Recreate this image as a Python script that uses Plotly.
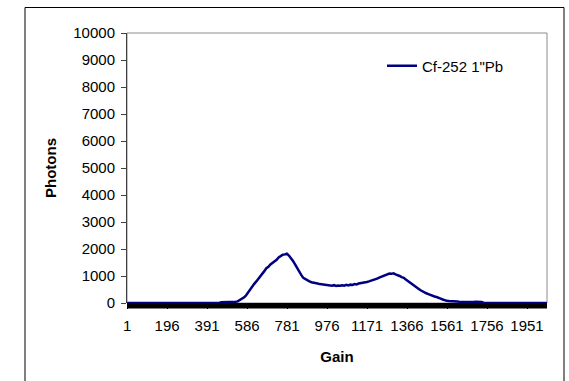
import plotly.graph_objects as go

# Pulse-height spectrum, Cf-252 source behind 1" of lead
gain = [1, 450, 460, 470, 480, 490, 500, 510, 520, 530, 540, 550, 560, 570, 580, 590,
        600, 610, 620, 630, 640, 650, 660, 670, 680, 690, 700, 710, 720, 730, 740,
        750, 760, 770, 780, 790, 800, 810, 820, 830, 840, 850, 860, 870, 880, 890,
        900, 910, 920, 930, 940, 950, 960, 970, 980, 990, 1000, 1010, 1020, 1030,
        1040, 1050, 1060, 1070, 1080, 1090, 1100, 1110, 1120, 1130, 1140, 1150,
        1160, 1170, 1180, 1190, 1200, 1210, 1220, 1230, 1240, 1250, 1260, 1270,
        1280, 1290, 1300, 1310, 1320, 1330, 1340, 1350, 1360, 1370, 1380, 1390,
        1400, 1410, 1420, 1430, 1440, 1450, 1460, 1470, 1480, 1490, 1500, 1510,
        1520, 1530, 1540, 1550, 1560, 1570, 1580, 1590, 1600, 1610, 1620, 1630,
        1640, 1650, 1660, 1670, 1680, 1690, 1700, 1710, 1720, 1730, 1740, 2048]
photons = [0, 0, 30, 30, 35, 30, 35, 30, 40, 45, 60, 100, 140, 200, 270, 390,
           500, 620, 700, 790, 880, 990, 1100, 1180, 1290, 1340, 1430, 1480, 1560, 1600, 1690,
           1740, 1790, 1800, 1830, 1760, 1680, 1560, 1430, 1290, 1150, 1040, 930, 880, 830, 800,
           770, 760, 730, 720, 700, 690, 680, 660, 670, 650, 640, 660, 630, 650,
           640, 660, 640, 670, 650, 680, 670, 700, 690, 720, 730, 740,
           770, 780, 800, 820, 840, 870, 900, 940, 970, 990, 1030, 1050,
           1090, 1080, 1100, 1060, 1040, 1000, 960, 930, 870, 820, 760, 710,
           660, 600, 540, 480, 430, 390, 360, 330, 290, 260, 240, 220,
           200, 160, 130, 100, 80, 70, 60, 60, 50, 55, 50, 45,
           50, 45, 40, 45, 40, 40, 45, 40, 40, 35, 0, 0]

x_ticks = [1, 196, 391, 586, 781, 976, 1171, 1366, 1561, 1756, 1951]
y_ticks = [0, 1000, 2000, 3000, 4000, 5000, 6000, 7000, 8000, 9000, 10000]
n_channels = 2048

W, H = 569, 381
L, R, T, B = 127, 22, 33, 78
pw, ph = W - L - R, H - T - B

font = "Liberation Sans, Arial, sans-serif"

fig = go.Figure()
fig.add_trace(go.Scatter(
    x=gain, y=photons, mode="lines", name='Cf-252 1"Pb',
    line=dict(color="#000080", width=2.5), hoverinfo="skip",
))

# chart-area frame: left, top and right edges (bottom lies below the page)
fx0, fx1 = (25 - L) / pw, (564 - L) / pw
fy_top, fy_bot = (H - B - 7.5) / ph, (H - B - H - 5) / ph
frame = [
    dict(type="line", xref="paper", yref="paper", x0=fx0, x1=fx0, y0=fy_bot, y1=fy_top,
         line=dict(color="black", width=1)),
    dict(type="line", xref="paper", yref="paper", x0=fx0, x1=fx1, y0=fy_top, y1=fy_top,
         line=dict(color="black", width=1)),
    dict(type="line", xref="paper", yref="paper", x0=fx1, x1=fx1, y0=fy_bot, y1=fy_top,
         line=dict(color="black", width=1)),
]

# dense category tick marks under the x axis merge into a solid strip
tick_strip = dict(type="rect", xref="paper", yref="paper", x0=0, x1=1,
                  y0=-5.5 / ph, y1=0, line=dict(width=0), fillcolor="black",
                  layer="below")

fig.update_layout(
    width=W, height=H,
    margin=dict(l=L, r=R, t=T, b=B, pad=0),
    paper_bgcolor="white", plot_bgcolor="white",
    font=dict(family=font, color="black", size=15),
    showlegend=True, hovermode=False, dragmode=False,
    legend=dict(
        x=(382 - L) / pw, y=(H - B - 66) / ph, xanchor="left", yanchor="middle",
        bgcolor="rgba(0,0,0,0)", font=dict(size=15), itemwidth=30,
    ),
    xaxis=dict(
        range=[0.5, n_channels + 0.5], fixedrange=True,
        tickmode="array", tickvals=x_ticks, ticktext=[str(v) for v in x_ticks],
        ticks="outside", ticklen=5, tickcolor="black", tickwidth=1,
        ticklabelstandoff=4,
        showgrid=False, zeroline=False, showline=False,
        tickfont=dict(size=15),
        title=dict(text="<b>Gain</b>", font=dict(size=15), standoff=18),
    ),
    yaxis=dict(
        range=[0, 10000], fixedrange=True, tickmode="array", tickvals=y_ticks,
        ticktext=[str(v) for v in y_ticks],
        ticks="outside", ticklen=5, tickcolor="#404040",
        ticklabelstandoff=3,
        showgrid=False, zeroline=False,
        showline=True, linecolor="#404040", linewidth=1,
        tickfont=dict(size=15),
        title=dict(text="<b>Photons</b>", font=dict(size=15), standoff=13),
    ),
    shapes=[
        # plot-area frame
        dict(type="rect", xref="paper", yref="paper", x0=0, x1=1, y0=0, y1=1,
             line=dict(color="#8c8c8c", width=1), layer="below"),
        tick_strip,
    ] + frame,
)

fig.write_html("out.html", config={"displayModeBar": False, "staticPlot": True})
